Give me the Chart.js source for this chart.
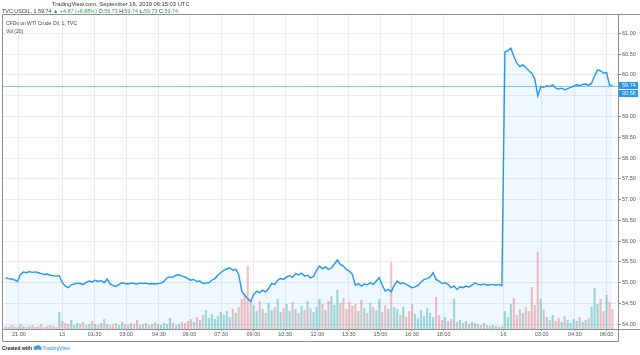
<!DOCTYPE html>
<html><head><meta charset="utf-8">
<script src="https://cdn.jsdelivr.net/npm/chart.js@4"></script>
<style>
html,body{margin:0;padding:0;background:#fff;}
#wrap{position:relative;width:640px;height:355px;overflow:hidden;font-family:"Liberation Sans",Arial,sans-serif;}
canvas{position:absolute;left:0;top:0;}
.t{position:absolute;white-space:nowrap;color:#333;line-height:1;}
.g{color:#2ea35a;}
</style></head><body>
<div id="wrap">
<canvas id="c" width="640" height="355"></canvas>
<div class="t" style="left:52px;top:2px;font-size:5.8px;">TradingView.com, September 16, 2019 06:15:03 UTC</div>
<div class="t" style="left:2px;top:9px;font-size:5.4px;">TVC:USOIL, 1 59.74 <span class="g">▲ +4.87 (+8.88%)</span> O:<span class="g">59.73</span> H:<span class="g">59.74</span> L:<span class="g">59.73</span> C:<span class="g">59.74</span></div>
<div class="t" style="left:6px;top:21px;font-size:5px;color:#444;">CFDs on WTI Crude Oil, 1, TVC</div>
<div class="t" style="left:6px;top:29px;font-size:5px;color:#444;">Vol (20)</div>
<div class="t" style="left:2px;top:345px;font-size:5px;font-weight:bold;color:#222;">Created with <svg width="9" height="5" viewBox="0 0 9 5" style="vertical-align:-0.5px"><circle cx="2.5" cy="3" r="2" fill="#3d9be9"/><circle cx="5" cy="2.2" r="2.2" fill="#3d9be9"/><circle cx="7" cy="3.2" r="1.8" fill="#3d9be9"/></svg><span style="color:#2f8de4;font-weight:normal;">TradingView</span></div>
</div>
<script>
const price = [
55.12,55.10,55.09,55.07,55.03,55.20,55.26,55.24,55.27,55.25,
55.26,55.24,55.22,55.20,55.21,55.18,55.17,55.16,55.17,55.00,
54.92,54.88,54.95,54.97,54.99,54.98,54.96,55.01,55.04,55.02,
55.06,55.03,55.05,55.00,55.09,54.97,54.93,54.91,54.96,55.00,
54.98,54.97,54.99,54.98,54.97,54.99,54.98,54.99,54.97,54.98,
54.97,54.98,54.99,55.03,55.12,55.14,55.13,55.18,55.19,55.16,
55.14,55.10,55.06,55.08,55.03,55.04,54.98,54.99,55.00,55.06,
55.10,55.18,55.24,55.30,55.33,55.36,55.30,55.32,55.20,54.80,
54.70,54.62,54.55,54.72,54.80,54.76,54.82,54.78,54.86,54.98,
54.96,55.06,55.10,55.08,55.14,55.17,55.13,55.22,55.19,55.23,
55.16,55.18,55.12,55.15,55.30,55.40,55.34,55.38,55.32,55.36,
55.45,55.55,55.44,55.40,55.32,55.28,55.20,54.94,54.98,54.92,
54.97,54.95,55.00,54.96,55.04,55.12,54.94,54.80,54.84,54.78,
54.94,55.04,54.98,55.00,54.96,54.92,54.88,54.90,54.94,55.02,
55.08,55.10,55.14,55.24,55.08,55.04,54.98,55.00,54.96,54.88,
54.92,54.84,54.90,54.88,54.92,54.90,54.94,55.00,54.96,54.95,
54.97,54.94,54.95,54.96,54.94,54.96,54.93,60.55,60.58,60.64,
60.45,60.28,60.20,60.24,60.18,60.10,60.04,59.90,59.50,59.72,
59.70,59.74,59.72,59.76,59.68,59.66,59.68,59.64,59.67,59.70,
59.73,59.76,59.74,59.77,59.78,59.75,59.80,59.98,60.12,60.10,
60.04,60.06,59.76,59.74
];
const volume = [
3,2,4,3,2,5,3,2,3,4,2,3,5,2,3,4,3,2,
17,8,
6,5,9,4,6,5,7,4,5,8,5,4,6,10,5,4,5,6,4,7,5,4,6,5,9,4,5,6,4,5,7,5,4,6,5,11,6,4,5,7,6,
8,10,7,12,9,14,19,11,15,10,13,17,
14,18,12,20,16,22,
30,36,63,28,
24,18,28,20,16,26,19,22,30,17,21,25,18,27,20,16,23,19,28,21,17,
22,30,25,19,28,33,24,39,26,31,20,27,23,
25,18,29,21,16,26,22,19,30,17,24,20,67,22,
20,14,22,12,18,25,15,11,19,13,21,16,12,32,14,
9,12,8,10,30,7,9,6,8,5,7,6,5,4,6,4,3,4,3,2,3,
18,12,25,31,14,20,16,22,18,42,24,77,30,20,
12,9,14,8,11,7,13,9,6,10,8,12,7,9,11,
22,41,25,30,18,34,27,20
];
const xTickPos = [4.5,18.9,29.8,40.4,51.3,61.5,72.1,82.9,93.5,104.3,114.8,125.4,135.9,146.5,166.5,179.3,190.4,201];
const xTickLabels = ["21:00","13","01:30","03:00","04:30","06:00","07:30","09:00","10:30","12:00","13:30","15:00","16:30","18:00","16","03:00","04:30","06:00"];
const yTicks = [54,54.5,55,55.5,56,56.5,57,57.5,58,58.5,59,59.5,60,60.5,61];
const lastPrice = 59.74;
const lastLabel = "59.74";
const countdown = "00:58";

// ---- chart ----
const FONT = "'Liberation Sans', Arial, sans-serif";
const gridColor = '#e8edf2';
const upCol = 'rgba(38,166,154,0.42)';
const downCol = 'rgba(239,83,80,0.38)';
const barColors = volume.map((v,i)=> (i===0 || price[i] >= price[i-1]) ? upCol : downCol);

const decor = {
  id:'decor',
  afterDraw(chart){
    const {ctx, chartArea:a, scales:{y}} = chart;
    const W = chart.width;
    const py = Math.round(y.getPixelForValue(lastPrice)) + 0.5;
    ctx.save();
    ctx.strokeStyle = 'rgba(33,150,243,0.55)';
    ctx.lineWidth = 1;
    ctx.beginPath(); ctx.moveTo(a.left, py); ctx.lineTo(a.right, py); ctx.stroke();
    ctx.strokeStyle = '#8f8f8f';
    const L = a.left - 0.5, T = a.top - 0.5, R = a.right + 0.5, B = a.bottom + 12.5;
    ctx.beginPath();
    ctx.moveTo(L, T); ctx.lineTo(W, T);
    ctx.moveTo(L, T); ctx.lineTo(L, B); ctx.lineTo(R, B); ctx.lineTo(R, T);
    ctx.moveTo(L, a.bottom + 0.5); ctx.lineTo(W, a.bottom + 0.5);
    ctx.stroke();
    ctx.fillStyle = '#2196f3';
    ctx.fillRect(a.right + 1, py - 4.5, W - a.right - 3, 7);
    ctx.fillRect(a.right + 1, py + 3.5, W - a.right - 3, 7);
    ctx.fillStyle = '#fff';
    ctx.font = '5.5px ' + FONT;
    ctx.textBaseline = 'middle';
    ctx.textAlign = 'left';
    ctx.fillText(lastLabel, a.right + 4, py - 1);
    ctx.fillText(countdown, a.right + 4, py + 7);
    ctx.restore();
  }
};

new Chart(document.getElementById('c'), {
  type: 'bar',
  data: {
    datasets: [
      {
        type: 'line',
        data: price.map((v,i)=>({x:i, y:v})),
        yAxisID: 'y',
        borderColor: '#2196f3',
        borderWidth: 1.4,
        pointRadius: 0,
        tension: 0,
        fill: 'start',
        backgroundColor: 'rgba(33,150,243,0.07)',
        order: 0
      },
      {
        type: 'bar',
        data: volume.map((v,i)=>({x:i, y:v})),
        yAxisID: 'v',
        backgroundColor: barColors,
        barPercentage: 0.7,
        categoryPercentage: 1,
        order: 1
      }
    ]
  },
  options: {
    responsive: false,
    animation: false,
    devicePixelRatio: 1,
    layout: { padding: { top: 15, left: 3, right: 0, bottom: 14 } },
    plugins: { legend: { display: false }, tooltip: { enabled: false } },
    scales: {
      x: {
        type: 'linear', min: -0.833, max: 204.83, offset: false,
        afterBuildTicks(ax){ ax.ticks = xTickPos.map(v=>({value:v})); },
        afterFit(ax){ ax.height = 12; },
        grid: { color: gridColor, tickLength: 2, tickColor: '#aaa', offset: false },
        border: { display: false },
        ticks: { autoSkip: false, maxRotation: 0, padding: 0, color: '#555',
                 font: { size: 5.5, family: FONT },
                 callback: (v, i) => xTickLabels[i] }
      },
      y: {
        position: 'right', min: 53.887, max: 61.44,
        afterBuildTicks(ax){ ax.ticks = yTicks.map(v=>({value:v})); },
        afterFit(ax){ ax.width = 22; },
        grid: { color: gridColor, tickLength: 3, tickColor: '#888' },
        border: { display: false },
        ticks: { padding: 1, color: '#555', font: { size: 5.5, family: FONT },
                 callback: v => Number(v).toFixed(2) }
      },
      v: {
        display: false, min: 0, max: 314, position: 'left'
      }
    }
  },
  plugins: [decor]
});
</script>
</body></html>
